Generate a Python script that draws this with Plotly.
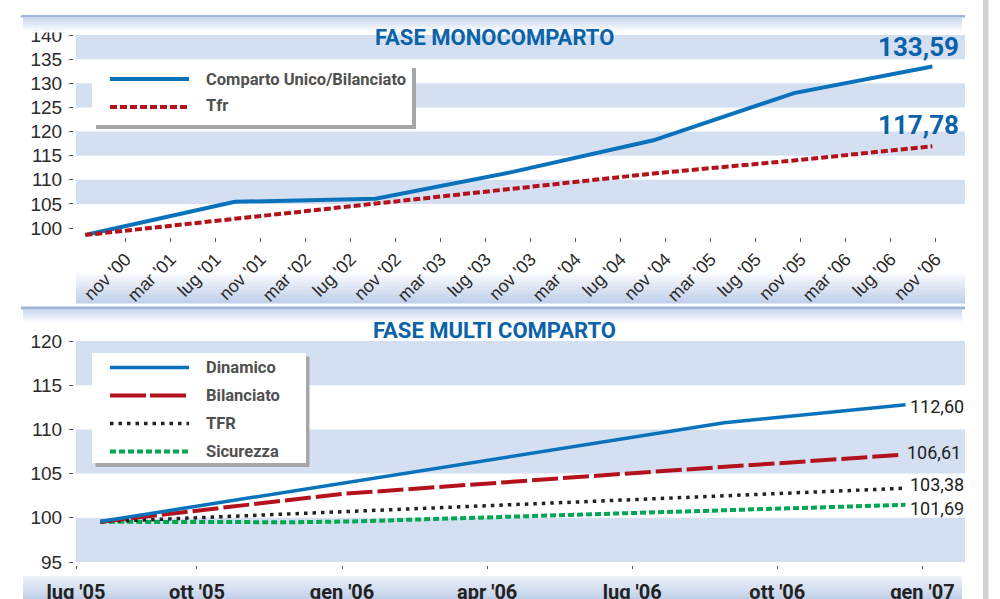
import plotly.graph_objects as go

# ---------------- DATA ----------------
# Top chart: x = months from nov '00
top_tick_vals = [0, 4, 8, 12, 16, 20, 24, 28, 32, 36, 40, 44, 48, 52, 56, 60, 64, 68, 72]
top_tick_text = ["nov '00", "mar '01", "lug '01", "nov '01", "mar '02", "lug '02", "nov '02",
                 "mar '03", "lug '03", "nov '03", "mar '04", "lug '04", "nov '04", "mar '05",
                 "lug '05", "nov '05", "mar '06", "lug '06", "nov '06"]
unico_x = [-3.6, 9.7, 22.2, 34.4, 46.9, 59.4, 71.7]
unico_y = [98.55, 105.43, 106.05, 111.63, 118.18, 127.96, 133.47]
tfr_top_x = [-3.6, 9.5, 22.3, 33.3, 46.9, 59.4, 71.7]
tfr_top_y = [98.55, 101.9, 105.2, 108.0, 111.3, 114.0, 116.94]
top_names = ["Comparto Unico/Bilanciato", "Tfr"]
top_end_labels = ["133,59", "117,78"]

# Bottom chart: x = months from gen '06
bot_tick_vals = [-5.5, -3, 0, 3, 6, 9, 12]
bot_tick_text = ["lug '05", "ott '05", "gen '06", "apr '06", "lug '06", "ott '06", "gen '07"]
dyn_x = [-5, 7.9, 11.65]
dyn_y = [99.58, 110.75, 112.78]
bil_x = [-5, 0, 6, 11.6]
bil_y = [99.55, 102.7, 105.05, 107.13]
tfr_x = [-5, 0, 6, 11.65]
tfr_y = [99.55, 100.65, 102.05, 103.35]
sic_x = [-5, -1, 0.3, 6, 11.65]
sic_y = [99.55, 99.5, 99.6, 100.56, 101.47]
bot_names = ["Dinamico", "Bilanciato", "TFR", "Sicurezza"]
bot_end_labels = ["112,60", "106,61", "103,38", "101,69"]

titles = ["FASE MONOCOMPARTO", "FASE MULTI COMPARTO"]

# ---------------- STYLE ----------------
W, H = 1000, 599
BLUE = "#0a72bb"
RED = "#b3121c"
BLACK = "#222222"
GREEN = "#00a651"
BAND = "#d4e0f1"
TITLE_BLUE = "#0b62a8"
NARROW = "Roboto, Liberation Sans, sans-serif"
REG = "Liberation Sans, Arial, sans-serif"


def px(x):
    return x / W


def py(y):
    return 1 - y / H


fig = go.Figure()

# top traces
fig.add_trace(go.Scatter(x=unico_x, y=unico_y, mode="lines", name=top_names[0],
                         line=dict(color=BLUE, width=4), xaxis="x", yaxis="y"))
fig.add_trace(go.Scatter(x=tfr_top_x, y=tfr_top_y, mode="lines", name=top_names[1],
                         line=dict(color=RED, width=4, dash="7px,3px"), xaxis="x", yaxis="y"))
# bottom traces
fig.add_trace(go.Scatter(x=sic_x, y=sic_y, mode="lines", name=bot_names[3],
                         line=dict(color=GREEN, width=4, dash="6px,3px"), xaxis="x2", yaxis="y2"))
fig.add_trace(go.Scatter(x=tfr_x, y=tfr_y, mode="lines", name=bot_names[2],
                         line=dict(color=BLACK, width=3.5, dash="3.5px,5px"), xaxis="x2", yaxis="y2"))
fig.add_trace(go.Scatter(x=bil_x, y=bil_y, mode="lines", name=bot_names[1],
                         line=dict(color=RED, width=4, dash="26px,5px"), xaxis="x2", yaxis="y2"))
fig.add_trace(go.Scatter(x=dyn_x, y=dyn_y, mode="lines", name=bot_names[0],
                         line=dict(color=BLUE, width=3.5), xaxis="x2", yaxis="y2"))

shapes = []


def rect(x0, y0, x1, y1, color, layer="below"):
    shapes.append(dict(type="rect", xref="paper", yref="paper",
                       x0=px(x0), x1=px(x1), y0=py(y1), y1=py(y0),
                       fillcolor=color, line=dict(width=0), layer=layer))


def lerp(c1, c2, t):
    return "rgb(%d,%d,%d)" % tuple(round(a + (b - a) * t) for a, b in zip(c1, c2))


def grad(x0, x1, y0, y1, ctop, cbot, n=10, layer="below"):
    h = (y1 - y0) / n
    for i in range(n):
        rect(x0, y0 + i * h, x1, y0 + (i + 1) * h + 0.5, lerp(ctop, cbot, (i + 0.5) / n), layer)


WHITE = (255, 255, 255)

# bands
for lo in [105, 115, 125, 135]:
    shapes.append(dict(type="rect", xref="x domain", yref="y", x0=0, x1=1, y0=lo, y1=lo + 5,
                       fillcolor=BAND, line=dict(width=0), layer="below"))
for lo in [95, 105, 115]:
    shapes.append(dict(type="rect", xref="x2 domain", yref="y2", x0=0, x1=1, y0=lo, y1=lo + 5,
                       fillcolor=BAND, line=dict(width=0), layer="below"))

# label-area gradients
grad(76, 965, 271, 303, WHITE, (190, 206, 233), 12)
grad(23, 962, 576, 600, (238, 242, 249), (190, 206, 233), 10)

# panel headers (above, clipping the 140 label)
rect(0, 0, 975, 15, "white", "above")
rect(21, 15, 965, 17.5, "#9fb4d9", "above")
grad(23, 962, 17.5, 32, (200, 214, 237), WHITE, 8, "above")
rect(21, 306.5, 965, 309.5, "#9fb4d9", "above")
grad(23, 962, 309.5, 323, (200, 214, 237), WHITE, 8, "above")

# right gray bar
rect(983, 0, 988.5, 599, "#d3d3d3", "above")

# manual legends
rect(96, 68, 416, 129, "#a7a7a9", "above")
rect(92, 64, 412, 125, "white", "above")
rect(95.5, 356.5, 309.5, 467, "#a7a7a9", "above")
rect(92, 353, 306, 463, "white", "above")


def leg_line(y, color, width, dash):
    shapes.append(dict(type="line", xref="paper", yref="paper", x0=px(110), x1=px(189),
                       y0=py(y), y1=py(y), line=dict(color=color, width=width, dash=dash),
                       layer="above"))


leg_line(79, BLUE, 4, "solid")
leg_line(107, RED, 4, "7px,3px")
leg_line(367.5, BLUE, 3.5, "solid")
leg_line(395.5, RED, 4, "36px,4px")
leg_line(423.5, BLACK, 3.5, "3.5px,5px")
leg_line(451.5, GREEN, 4, "6px,3px")

annotations = []


def text(x, y, s, size, color, family, weight="normal", xanchor="left"):
    annotations.append(dict(xref="paper", yref="paper", x=px(x), y=py(y), text=s,
                            showarrow=False, xanchor=xanchor, yanchor="middle",
                            font=dict(size=size, color=color, family=family, weight=weight)))


for name, yy in zip(top_names, [79, 106]):
    text(204, yy, name, 16.5, "#505050", NARROW, "bold")
for name, yy in zip(bot_names, [367.5, 395.5, 423.5, 451.5]):
    text(204, yy, name, 16.5, "#505050", NARROW, "bold")

text(494, 38, titles[0], 22, TITLE_BLUE, NARROW, "bold", "center")
text(494, 330, titles[1], 22, TITLE_BLUE, NARROW, "bold", "center")

# end labels
for xs, ys, lab, dy in [(unico_x, unico_y, top_end_labels[0], 19.5),
                        (tfr_top_x, tfr_top_y, top_end_labels[1], 21)]:
    annotations.append(dict(xref="x", yref="y", x=xs[-1], y=ys[-1], text=lab, showarrow=False,
                            xanchor="right", yanchor="middle", xshift=29, yshift=dy,
                            font=dict(size=26, color=TITLE_BLUE, family=NARROW, weight="bold")))
for xs, ys, lab, dy in [(dyn_x, dyn_y, bot_end_labels[0], -1.5),
                        (bil_x, bil_y, bot_end_labels[1], 2.5),
                        (tfr_x, tfr_y, bot_end_labels[2], 3.5),
                        (sic_x, sic_y, bot_end_labels[3], -4)]:
    annotations.append(dict(xref="x2", yref="y2", x=xs[-1], y=ys[-1], text=lab, showarrow=False,
                            xanchor="left", yanchor="middle", xshift=2, yshift=dy,
                            font=dict(size=18, color=BLACK, family=NARROW)))

tickfont_y = dict(size=19, color="#2a2a2a", family=REG)

fig.update_layout(
    width=W, height=H, margin=dict(l=0, r=0, t=0, b=0, autoexpand=False),
    paper_bgcolor="white", plot_bgcolor="rgba(0,0,0,0)", showlegend=False,
    shapes=shapes, annotations=annotations,
    xaxis=dict(domain=[px(76), px(965)], range=[-4.42, 74.6], tickvals=top_tick_vals,
               ticktext=top_tick_text, tickangle=-45, ticks="outside", ticklen=4,
               tickcolor="#555", tickwidth=1.3, showgrid=False, zeroline=False, showline=False,
               tickfont=dict(size=18, color="#2a2a2a", family=REG), anchor="y",
               automargin=False),
    yaxis=dict(domain=[py(236.7), py(35)], range=[98.2, 140], tickvals=list(range(100, 141, 5)),
               ticks="outside", ticklen=4, tickcolor="#555", tickwidth=1.3, showgrid=False,
               zeroline=False, showline=False, tickfont=tickfont_y, anchor="free",
               position=px(73), ticklabelstandoff=3, automargin=False),
    xaxis2=dict(domain=[px(76), px(965)], range=[-5.5, 12.88], tickvals=bot_tick_vals,
                ticktext=bot_tick_text, ticks="outside", ticklen=3, tickcolor="#555",
                tickwidth=1.3, showgrid=False, zeroline=False, showline=False,
                tickfont=dict(size=20, color=BLACK, family=NARROW, weight="bold"),
                anchor="free", position=py(564.5), ticklabelstandoff=6, automargin=False),
    yaxis2=dict(domain=[py(562), py(341)], range=[95, 120], tickvals=list(range(95, 121, 5)),
                ticks="outside", ticklen=4, tickcolor="#555", tickwidth=1.3, showgrid=False,
                zeroline=False, showline=False, tickfont=tickfont_y, anchor="free",
                position=px(73), ticklabelstandoff=3, automargin=False),
)

fig.write_html("out.html", config={"displayModeBar": False},
               post_script="document.body.style.margin='0';document.body.style.overflow='hidden';")
